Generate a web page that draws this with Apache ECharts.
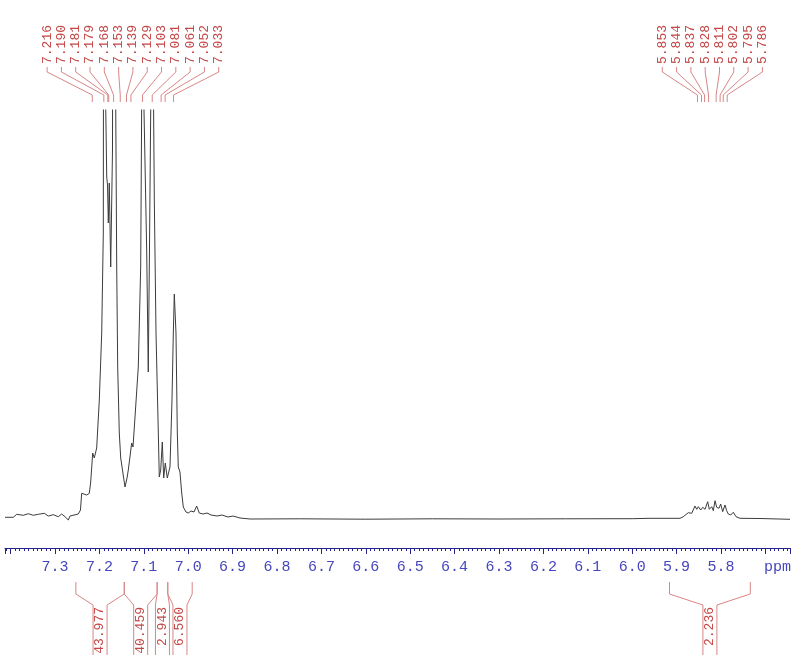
<!DOCTYPE html>
<html>
<head>
<meta charset="utf-8">
<script src="https://cdn.jsdelivr.net/npm/echarts@6/dist/echarts.min.js"></script>
<style>
  html, body { margin: 0; padding: 0; background: #fff; }
  #main { width: 800px; height: 668px; }
</style>
</head>
<body>
<div id="main"></div>
<script>
  // spectrum trace (ppm, intensity above baseline)
  const specPpm = [
    7.4126, 7.3939, 7.3863, 7.3714, 7.3601, 7.3489, 7.3376, 7.3241, 7.3151, 7.3038,
    7.2926, 7.2849, 7.2775, 7.2700, 7.2662, 7.2624, 7.2475, 7.2426, 7.2399, 7.2363,
    7.2286, 7.2227, 7.2196, 7.2151, 7.2115, 7.2061, 7.2002, 7.1948, 7.1912, 7.1895,
    7.1860, 7.1835, 7.1817, 7.1799, 7.1777, 7.1745, 7.1705, 7.1678, 7.1633, 7.1610,
    7.1588, 7.1552, 7.1520, 7.1507, 7.1480, 7.1423, 7.1378, 7.1349, 7.1311, 7.1273,
    7.1243, 7.1198, 7.1124, 7.1070, 7.1047, 7.1030, 7.1000, 7.0935, 7.0899, 7.0872,
    7.0842, 7.0810, 7.0781, 7.0763, 7.0725, 7.0673, 7.0651, 7.0619, 7.0583, 7.0552,
    7.0516, 7.0471, 7.0410, 7.0365, 7.0335, 7.0313, 7.0275, 7.0245, 7.0223, 7.0185,
    7.0146, 7.0110, 7.0050, 6.9998, 6.9937, 6.9869, 6.9809, 6.9750, 6.9667, 6.9577,
    6.9486, 6.9351, 6.9239, 6.9104, 6.8991, 6.8833, 6.8608, 6.75, 6.60, 6.45,
    6.30, 6.15, 6.00, 5.9599, 5.8923, 5.8849, 5.8736, 5.8698, 5.8660, 5.8586,
    5.8547, 5.8511, 5.8457, 5.8412, 5.8360, 5.8300, 5.8263, 5.8209, 5.8173, 5.8135,
    5.8097, 5.8045, 5.8007, 5.7962, 5.7910, 5.7872, 5.7835, 5.7781, 5.7723, 5.7662,
    5.7572, 5.7122, 5.6446
  ];
  const specIntensity = [
    1.7, 1.7, 4.7, 3.7, 5.3, 3.7, 4.7, 5.7, 3.0, 4.3,
    2.3, 5.0, 2.3, -1.0, 3.0, 4.7, 5.0, 9.0, 25.7, 26.3,
    24.0, 25.7, 37, 66, 61, 71, 119, 186, 286, 1000,
    420, 342, 334, 296, 336, 252, 369, 1000, 420, 252,
    152, 86, 61, 62, 49, 32, 41, 49, 51, 76,
    72, 102, 152, 252, 420, 1000, 420, 269, 147, 269,
    420, 1000, 420, 319, 186, 86, 42, 49, 77, 41,
    56, 41, 52, 119, 186, 225, 186, 86, 52, 47,
    26, 12, 7, 6, 8, 7, 13, 6, 5, 6,
    4, 3, 4, 2, 3, 1, 0, 0.2, -0.2, 0.2,
    0, 0.2, 0.3, 0.7, 0.7, 2.3, 6.3, 7.3, 5.7, 13,
    9.7, 12.3, 9, 11.7, 9.7, 17.3, 9.7, 12.3, 8.3, 18.3,
    11.7, 10.7, 15, 7.3, 14, 8.3, 5, 4, 6.7, 2.3,
    0.7, 0.5, -0.3
  ];

  // picked peaks
  const peaksAromatic = [7.216, 7.190, 7.181, 7.179, 7.168, 7.153, 7.139, 7.129, 7.103, 7.081, 7.061, 7.052, 7.033];
  const peaksVinyl = [5.853, 5.844, 5.837, 5.828, 5.811, 5.802, 5.795, 5.786];

  // integrals
  const integralFrom = [7.253, 7.144, 7.070, 7.046, 5.916];
  const integralTo = [7.144, 7.070, 7.046, 6.991, 5.734];
  const integralValue = [43.977, 40.459, 2.943, 6.560, 2.236];

  const RED = '#c44848';
  const RED_LINE = '#d88686';
  const LABEL_STEP = 14.3;

  const specData = specPpm.map((p, i) => [p, specIntensity[i]]);

  const peakData = [];
  [peaksAromatic, peaksVinyl].forEach(function (g) {
    g.forEach(function (p, i) {
      peakData.push([p, 0, i, g.length, g[0], g[g.length - 1]]);
    });
  });

  const integralData = integralFrom.map((a, i) => [a, 0, integralTo[i], integralValue[i]]);

  function renderPeak(params, api) {
    const px = api.coord([api.value(0), 0])[0];
    const i = api.value(2), n = api.value(3);
    const cx = (api.coord([api.value(4), 0])[0] + api.coord([api.value(5), 0])[0]) / 2;
    const lx = cx + (i - (n - 1) / 2) * LABEL_STEP;
    return {
      type: 'group',
      children: [
        {
          type: 'polyline',
          shape: { points: [[lx, 67], [lx, 72], [px, 95], [px, 102]] },
          style: { stroke: RED_LINE, fill: null, lineWidth: 1 }
        },
        {
          type: 'text', x: lx, y: 64, rotation: Math.PI / 2,
          style: {
            text: api.value(0).toFixed(3), fill: RED,
            fontSize: 13, fontFamily: 'Liberation Mono',
            align: 'left', verticalAlign: 'middle'
          }
        }
      ]
    };
  }

  function renderIntegral(params, api) {
    const x1 = api.coord([api.value(0), 0])[0];
    const x2 = api.coord([api.value(2), 0])[0];
    const mid = (x1 + x2) / 2;
    const style = { stroke: RED_LINE, fill: null, lineWidth: 1 };
    return {
      type: 'group',
      children: [
        { type: 'polyline', shape: { points: [[x1, 582], [x1, 594], [mid - 7, 605], [mid - 7, 655]] }, style: style },
        { type: 'polyline', shape: { points: [[x2, 582], [x2, 594], [mid + 7, 605], [mid + 7, 655]] }, style: style },
        {
          type: 'text', x: mid, y: 607, rotation: Math.PI / 2,
          style: {
            text: api.value(3).toFixed(3), fill: RED,
            fontSize: 13, fontFamily: 'Liberation Mono',
            align: 'right', verticalAlign: 'middle'
          }
        }
      ]
    };
  }

  const chart = echarts.init(document.getElementById('main'));
  chart.setOption({
    animation: false,
    backgroundColor: '#fff',
    grid: { left: 5, right: 10, top: 110, bottom: 120, containLabel: false, outerBoundsMode: 'none' },
    xAxis: {
      type: 'value',
      inverse: true,
      min: 5.6446,
      max: 7.4126,
      splitNumber: 18,
      axisLine: { onZero: false, lineStyle: { color: '#24248a', width: 1 } },
      axisTick: { length: 6, lineStyle: { color: '#24248a' } },
      minorTick: { show: true, splitNumber: 10, length: 3, lineStyle: { color: '#24248a' } },
      splitLine: { show: false },
      axisLabel: {
        margin: 12,
        color: '#4646bc',
        fontSize: 15,
        fontFamily: 'Liberation Mono',
        hideOverlap: false,
        formatter: function (v) {
          if (Math.abs(v * 10 - Math.round(v * 10)) > 1e-6) return '';
          if (v > 7.35) return '';
          if (Math.abs(v - 5.7) < 1e-6) return '{p|ppm}';
          return v.toFixed(1);
        },
        rich: {
          p: { color: '#4646bc', fontSize: 15, fontFamily: 'Liberation Mono', padding: [0, 0, 0, 24] }
        }
      }
    },
    yAxis: { type: 'value', min: -29, max: 409, show: false },
    series: [
      {
        type: 'line',
        data: specData,
        showSymbol: false,
        clip: true,
        lineStyle: { color: '#3c3c3c', width: 1 },
        silent: true
      },
      {
        type: 'custom',
        data: peakData,
        encode: { x: 0, y: 1 },
        clip: false,
        renderItem: renderPeak,
        silent: true
      },
      {
        type: 'custom',
        data: integralData,
        encode: { x: 0, y: 1 },
        clip: false,
        renderItem: renderIntegral,
        silent: true
      }
    ]
  });
</script>
</body>
</html>
